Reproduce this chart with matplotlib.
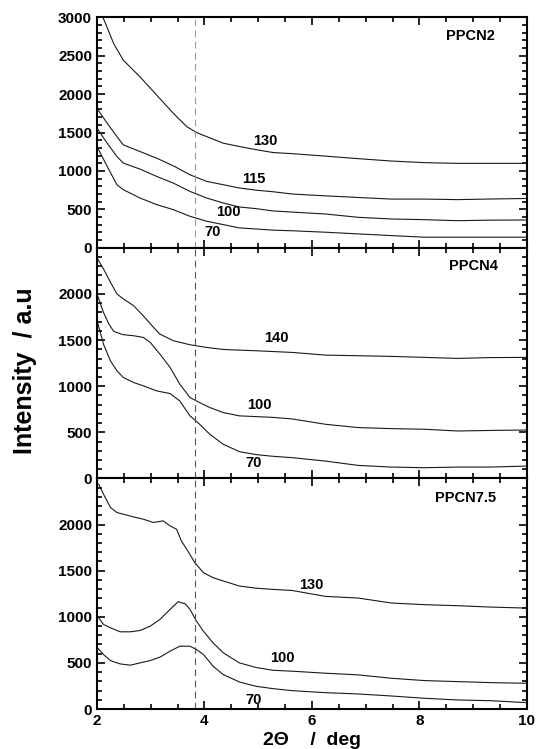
import matplotlib
matplotlib.use("Agg")
import matplotlib.pyplot as plt
from matplotlib.ticker import MultipleLocator, FixedLocator

plt.rcParams["font.family"] = ["Liberation Sans", "DejaVu Sans"]
plt.rcParams["font.weight"] = "bold"

# ---- PPCN2 (top panel) ----
x2_130 = [2.11, 2.31, 2.49, 2.80, 3.11, 3.42, 3.67, 3.85, 4.04, 4.35, 4.65, 4.96, 5.27, 5.63, 6.25, 6.86, 7.48, 8.10, 8.71, 9.33, 10.0]
y2_130 = [3000, 2657, 2440, 2225, 1987, 1750, 1577, 1500, 1447, 1361, 1318, 1277, 1240, 1225, 1193, 1160, 1129, 1108, 1099, 1099, 1099]
x2_low = [2.0, 2.19, 2.37, 2.49, 2.80, 3.11, 3.42, 3.73, 4.04, 4.35, 4.65, 4.96, 5.27, 5.63, 6.25, 6.86, 7.48, 8.10, 8.71, 9.33, 10.0]
y2_115 = [1814, 1620, 1447, 1339, 1253, 1166, 1067, 950, 864, 821, 778, 750, 730, 700, 676, 655, 634, 634, 627, 635, 642]
y2_100 = [1555, 1361, 1188, 1102, 1024, 929, 842, 734, 648, 583, 531, 510, 480, 465, 440, 397, 375, 366, 353, 360, 362]
y2_70 = [1318, 1058, 821, 756, 648, 562, 497, 410, 346, 302, 259, 245, 230, 222, 203, 181, 159, 138, 138, 138, 138]

# ---- PPCN4 (middle panel) ----
x4_140 = [2.01, 2.12, 2.25, 2.37, 2.49, 2.68, 2.86, 3.05, 3.17, 3.42, 3.73, 4.04, 4.35, 4.65, 4.96, 5.63, 6.25, 6.86, 7.48, 8.10, 8.71, 9.33, 10.0]
y4_140 = [2380, 2272, 2127, 2000, 1946, 1873, 1764, 1638, 1565, 1493, 1449, 1420, 1398, 1391, 1384, 1366, 1337, 1330, 1323, 1312, 1301, 1310, 1312]
x4_100 = [2.0, 2.12, 2.22, 2.31, 2.49, 2.68, 2.86, 2.99, 3.17, 3.36, 3.54, 3.73, 3.91, 4.10, 4.35, 4.65, 4.96, 5.27, 5.63, 6.25, 6.86, 7.48, 8.10, 8.71, 9.33, 10.0]
y4_100 = [2000, 1800, 1674, 1594, 1558, 1547, 1529, 1475, 1348, 1203, 1022, 877, 822, 768, 714, 678, 670, 662, 645, 587, 551, 540, 533, 514, 520, 525]
x4_70 = [2.01, 2.12, 2.25, 2.37, 2.49, 2.68, 2.86, 3.11, 3.36, 3.54, 3.73, 3.91, 4.10, 4.35, 4.65, 4.96, 5.27, 5.63, 6.25, 6.86, 7.48, 8.10, 8.71, 9.33, 10.0]
y4_70 = [1692, 1456, 1275, 1167, 1094, 1040, 1004, 949, 920, 840, 678, 587, 478, 370, 290, 258, 240, 225, 188, 141, 123, 116, 123, 123, 134]

# ---- PPCN7.5 (bottom panel) ----
x7_130 = [2.03, 2.12, 2.25, 2.37, 2.49, 2.68, 2.86, 3.05, 3.23, 3.36, 3.48, 3.57, 3.67, 3.82, 3.98, 4.16, 4.35, 4.65, 4.96, 5.27, 5.63, 6.25, 6.86, 7.48, 8.10, 8.71, 9.33, 10.0]
y7_130 = [2438, 2330, 2185, 2130, 2112, 2083, 2058, 2022, 2040, 1985, 1949, 1822, 1732, 1587, 1478, 1424, 1388, 1333, 1310, 1297, 1285, 1221, 1203, 1149, 1131, 1120, 1105, 1094]
x7_100 = [2.01, 2.12, 2.25, 2.43, 2.62, 2.80, 2.99, 3.17, 3.36, 3.51, 3.64, 3.73, 3.85, 3.98, 4.16, 4.35, 4.65, 4.96, 5.27, 5.63, 6.25, 6.86, 7.48, 8.10, 8.71, 9.33, 10.0]
y7_100 = [1007, 917, 880, 837, 837, 851, 898, 971, 1080, 1163, 1141, 1080, 953, 844, 717, 609, 500, 450, 420, 410, 388, 370, 333, 308, 297, 286, 279]
x7_70 = [2.01, 2.12, 2.25, 2.43, 2.62, 2.80, 2.99, 3.17, 3.36, 3.54, 3.73, 3.85, 3.98, 4.16, 4.35, 4.65, 4.96, 5.27, 5.63, 6.25, 6.86, 7.48, 8.10, 8.71, 9.33, 10.0]
y7_70 = [663, 591, 525, 489, 475, 500, 525, 562, 627, 681, 681, 645, 591, 464, 373, 293, 246, 221, 199, 177, 163, 141, 116, 98, 90, 69]

panels = [
    ("PPCN2", 3000, [0, 500, 1000, 1500, 2000, 2500, 3000],
     [(x2_130, y2_130, "130"), (x2_low, y2_115, "115"), (x2_low, y2_100, "100"), (x2_low, y2_70, "70")],
     [(5.14, 1395), (4.92, 895), (4.45, 470), (4.15, 205)], (8.95, 2757)),
    ("PPCN4", 2500, [0, 500, 1000, 1500, 2000],
     [(x4_140, y4_140, "140"), (x4_100, y4_100, "100"), (x4_70, y4_70, "70")],
     [(5.33, 1522), (5.03, 793), (4.92, 163)], (9.0, 2299)),
    ("PPCN7.5", 2500, [0, 500, 1000, 1500, 2000],
     [(x7_130, y7_130, "130"), (x7_100, y7_100, "100"), (x7_70, y7_70, "70")],
     [(5.99, 1348), (5.45, 554), (4.92, 103)], (8.85, 2283)),
]

fig, axes = plt.subplots(3, 1, figsize=(5.36, 7.49), dpi=100, sharex=True)
fig.subplots_adjust(left=0.181, right=0.983, top=0.977, bottom=0.0534, hspace=0)

for i, (ax, (name, ymax, yt, curves, lab_pos, name_pos)) in enumerate(zip(axes, panels)):
    for (xs, ys, lab), (lx, ly) in zip(curves, lab_pos):
        ax.plot(xs, ys, color="#1a1a1a", lw=0.8)
        ax.text(lx, ly, lab, fontsize=10.5, fontweight="bold", ha="center", va="center")
    ax.text(name_pos[0], name_pos[1], name, fontsize=10.5, fontweight="bold", ha="center", va="center")
    ax.axvline(3.82, color="#999999" if i == 0 else "#555555", lw=0.8, dashes=(6, 4))
    ax.set_xlim(2, 10)
    ax.set_ylim(0, ymax)
    ax.xaxis.set_major_locator(MultipleLocator(2))
    ax.xaxis.set_minor_locator(MultipleLocator(0.5))
    ax.yaxis.set_major_locator(FixedLocator(yt))
    ax.yaxis.set_minor_locator(MultipleLocator(100))
    ax.tick_params(which="both", direction="in", top=True, right=True, width=1.2)
    ax.tick_params(which="major", length=6, labelsize=11)
    ax.tick_params(which="minor", length=3.5)
    for s in ax.spines.values():
        s.set_linewidth(1.5)
    for lab in ax.get_yticklabels() + ax.get_xticklabels():
        lab.set_fontweight("bold")

axes[-1].set_xlabel("2\u0398    /  deg", fontsize=14, fontweight="bold", labelpad=3)
fig.text(0.047, 0.505, "Intensity  / a.u", rotation=90, fontsize=18, fontweight="bold",
         ha="center", va="center")

fig.savefig("out.png", dpi=100)
